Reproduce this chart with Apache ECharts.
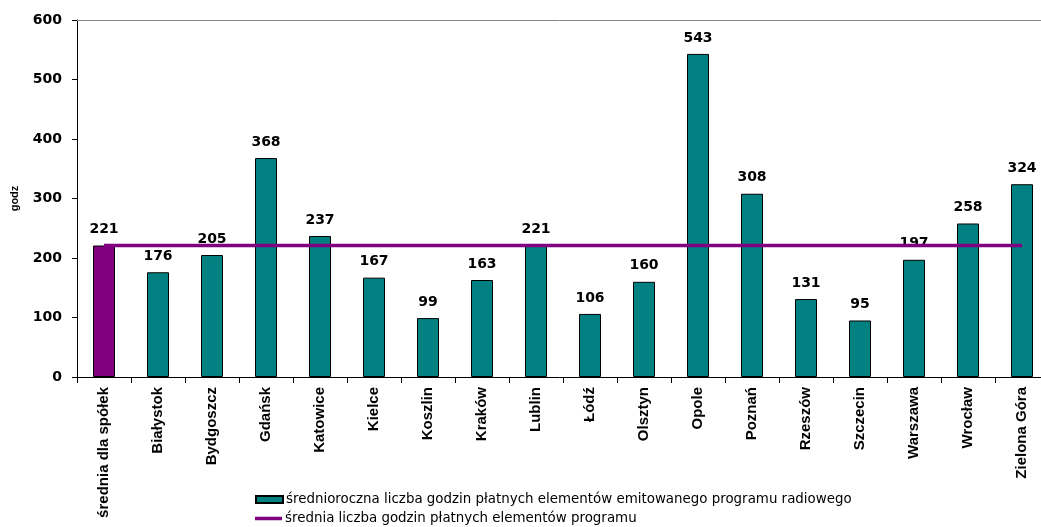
<!DOCTYPE html>
<html>
<head>
<meta charset="utf-8">
<script src="https://cdn.jsdelivr.net/npm/echarts@6/dist/echarts.min.js"></script>
<style>
  html, body { margin: 0; padding: 0; background: #fff; }
  #chart { width: 1041px; height: 527px; }
</style>
</head>
<body>
<div id="chart"></div>
<script>
// kategorie (oś X)
const categories = ['średnia dla spółek', 'Białystok', 'Bydgoszcz', 'Gdańsk', 'Katowice', 'Kielce', 'Koszlin', 'Kraków', 'Lublin', 'Łódź', 'Olsztyn', 'Opole', 'Poznań', 'Rzeszów', 'Szczecin', 'Warszawa', 'Wrocław', 'Zielona Góra']
// średnioroczna liczba godzin
const hours = [221, 176, 205, 368, 237, 167, 99, 163, 221, 106, 160, 543, 308, 131, 95, 197, 258, 324]
// średnia dla spółek (linia)
const avgValue = 221
const avgLine = categories.map(() => avgValue)
const yTicks = [0, 100, 200, 300, 400, 500, 600]

const barName = 'średnioroczna liczba godzin płatnych elementów emitowanego programu radiowego'
const lineName = 'średnia liczba godzin płatnych elementów programu'

const arial = 'Arial, "Liberation Sans", sans-serif'
const wide = '"DejaVu Sans", Verdana, sans-serif'

const legendBase = {
  left: 255,
  padding: 0,
  itemWidth: 27,
  itemHeight: 7,
  itemGap: 0,
  textStyle: { fontSize: 13.4, color: '#000', fontFamily: wide, padding: [0, 0, 0, -2] }
}

const chart = echarts.init(document.getElementById('chart'))
chart.setOption({
  animation: false,
  textStyle: { fontFamily: arial },
  grid: {
    left: 77,
    right: -8,
    top: 20,
    bottom: 150,
    outerBoundsMode: 'none'
  },
  legend: [
    Object.assign({}, legendBase, {
      top: 493,
      data: [{ name: barName, icon: 'rect' }]
    }),
    Object.assign({}, legendBase, {
      top: 512,
      data: [{
        name: lineName,
        icon: 'path://M0,0 L27,0 L27,3.5 L0,3.5 Z',
        itemStyle: { color: '#800080', borderWidth: 0 }
      }]
    })
  ],
  xAxis: [
    {
      type: 'category',
      data: categories,
      axisLine: { lineStyle: { color: '#000', width: 1 } },
      axisTick: { show: true, length: 6, lineStyle: { color: '#000' } },
      axisLabel: {
        rotate: 90,
        margin: 10,
        fontSize: 15,
        fontWeight: 'bold',
        fontFamily: arial,
        color: '#000',
        interval: 0
      }
    },
    {
      // górna linia przy 600
      type: 'category',
      position: 'top',
      data: categories,
      axisLine: { lineStyle: { color: '#888', width: 1 } },
      axisTick: { show: false },
      axisLabel: { show: false }
    }
  ],
  yAxis: {
    type: 'value',
    min: yTicks[0],
    max: yTicks[yTicks.length - 1],
    interval: 100,
    name: 'godz',
    nameLocation: 'middle',
    nameRotate: 90,
    nameGap: 57,
    nameTextStyle: { fontSize: 11, color: '#000', fontWeight: 'bold', fontFamily: arial },
    axisLine: { show: true, lineStyle: { color: '#000' } },
    axisTick: { show: true, length: 5, lineStyle: { color: '#000' } },
    splitLine: { show: false },
    axisLabel: {
      margin: 15,
      fontSize: 14,
      fontWeight: 'bold',
      fontFamily: wide,
      color: '#000'
    }
  },
  series: [
    {
      name: barName,
      type: 'bar',
      barWidth: 22,
      itemStyle: {
        color: '#008080',
        borderColor: '#000',
        borderWidth: 1
      },
      label: {
        show: true,
        position: 'top',
        distance: 9,
        fontSize: 14,
        fontWeight: 'bold',
        fontFamily: wide,
        color: '#000'
      },
      data: hours.map((v, i) => i === 0 ? { value: v, itemStyle: { color: '#800080' } } : v)
    },
    {
      name: lineName,
      type: 'line',
      symbol: 'none',
      lineStyle: { color: '#800080', width: 3.5 },
      itemStyle: { color: '#800080' },
      z: 5,
      data: avgLine
    }
  ]
})
</script>
</body>
</html>
